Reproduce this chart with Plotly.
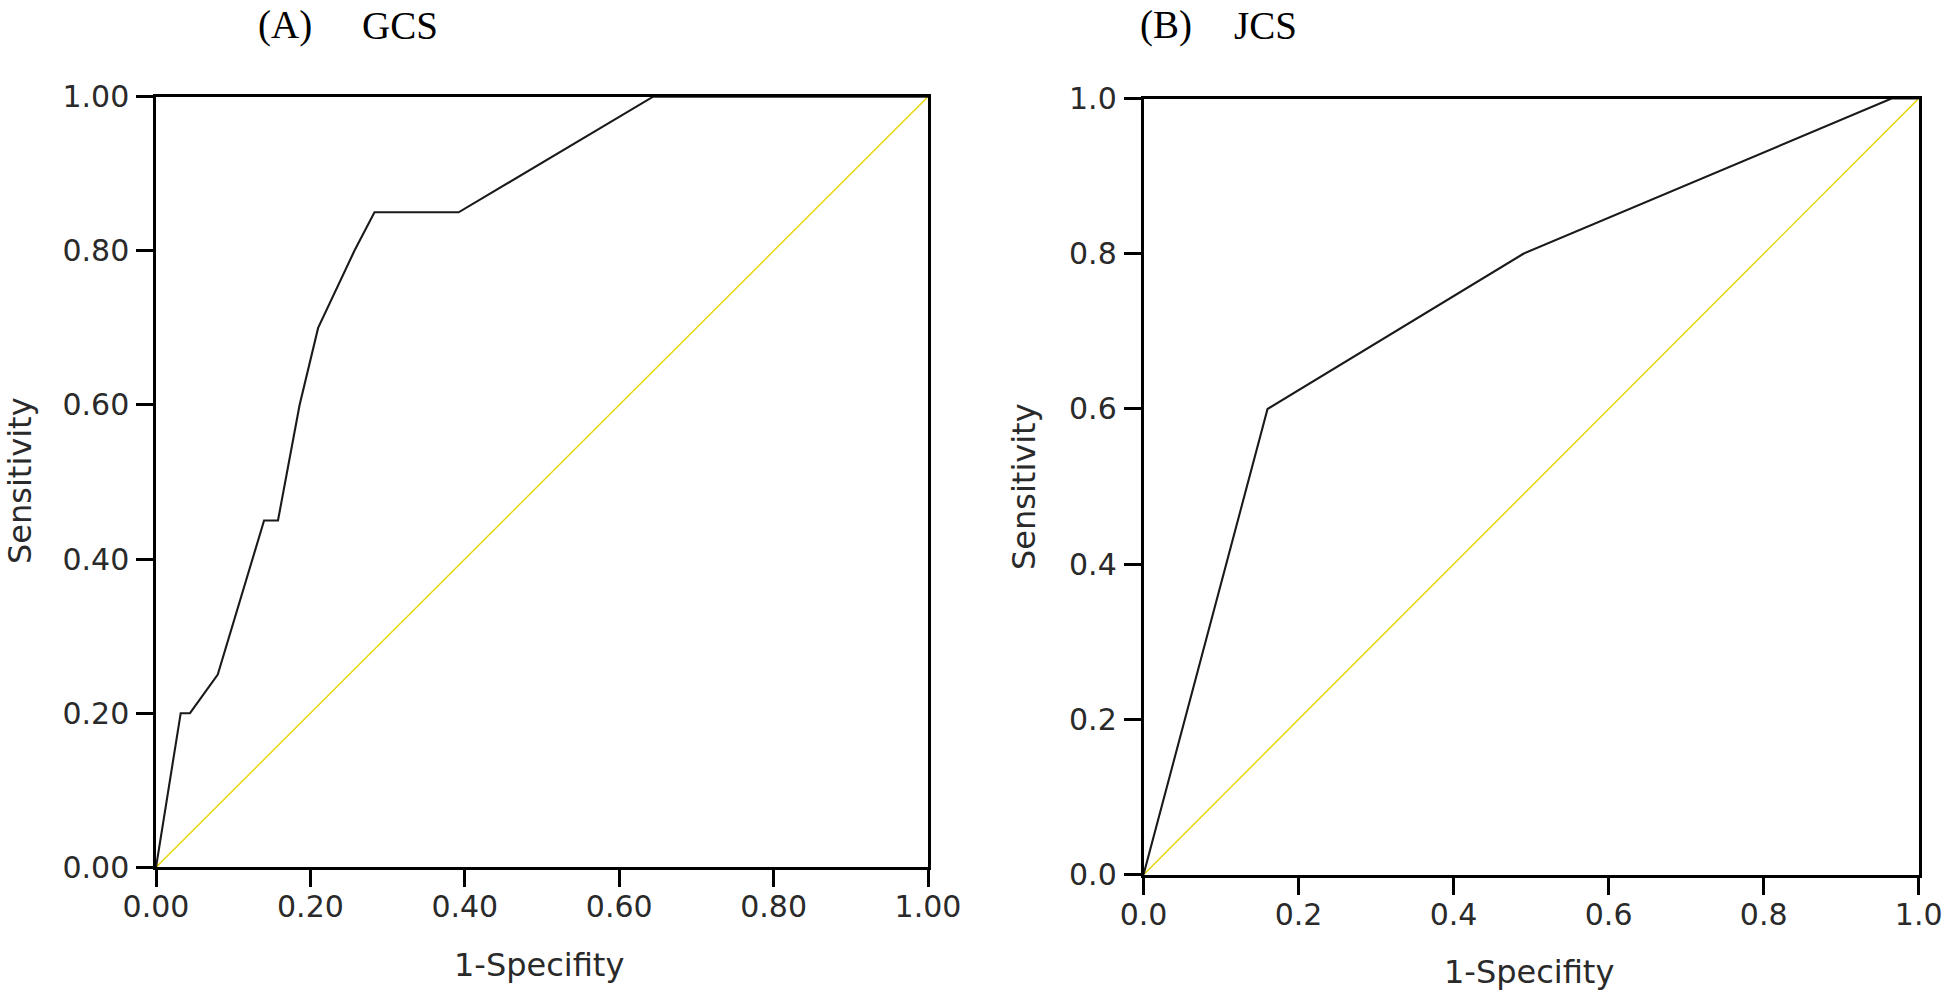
import plotly.graph_objects as go

# ---- data ----
gcs_fpr = [0, 0.032, 0.044, 0.08, 0.14, 0.158, 0.186, 0.21, 0.257, 0.283, 0.392, 0.644, 1.0]
gcs_tpr = [0, 0.20, 0.20, 0.25, 0.45, 0.45, 0.60, 0.70, 0.80, 0.85, 0.85, 1.0, 1.0]

jcs_fpr = [0, 0.16, 0.49, 0.965, 1.0]
jcs_tpr = [0, 0.60, 0.80, 1.0, 1.0]

ref_line = [0, 1]

tick_vals = [0, 0.2, 0.4, 0.6, 0.8, 1.0]
ticks_a = ["0.00", "0.20", "0.40", "0.60", "0.80", "1.00"]
ticks_b = ["0.0", "0.2", "0.4", "0.6", "0.8", "1.0"]

W, H = 1946, 994

def px(x):
    return x / W

def py(y):
    return 1 - y / H

fig = go.Figure()

curve_style = dict(color="#1a1a1a", width=2.1)
diag_style = dict(color="#e6d400", width=1.4)

fig.add_trace(go.Scatter(x=ref_line, y=ref_line, mode="lines", line=diag_style,
                         xaxis="x", yaxis="y", showlegend=False, hoverinfo="skip"))
fig.add_trace(go.Scatter(x=gcs_fpr, y=gcs_tpr, mode="lines", line=curve_style,
                         xaxis="x", yaxis="y", showlegend=False))
fig.add_trace(go.Scatter(x=ref_line, y=ref_line, mode="lines", line=diag_style,
                         xaxis="x2", yaxis="y2", showlegend=False, hoverinfo="skip"))
fig.add_trace(go.Scatter(x=jcs_fpr, y=jcs_tpr, mode="lines", line=curve_style,
                         xaxis="x2", yaxis="y2", showlegend=False))

tick_font = dict(family="DejaVu Sans", size=30, color="#2a2a2a")

def xax(domain, anchor, labels):
    return dict(domain=domain, anchor=anchor, range=[0, 1], tickvals=tick_vals,
                ticktext=labels, ticks="outside", ticklen=17, tickwidth=2.5,
                tickcolor="black", showline=True, linecolor="black", linewidth=3,
                mirror=True, showgrid=False, zeroline=False, tickfont=tick_font,
                fixedrange=True, automargin=False, ticklabelstandoff=-6)

def yax(domain, anchor, labels):
    return dict(domain=domain, anchor=anchor, range=[0, 1], tickvals=tick_vals,
                ticktext=labels, ticks="outside", ticklen=17, tickwidth=2.5,
                tickcolor="black", showline=True, linecolor="black", linewidth=2.5,
                mirror=True, showgrid=False, zeroline=False, tickfont=tick_font,
                fixedrange=True, automargin=False, ticklabelstandoff=1)

fig.update_layout(
    width=W, height=H,
    margin=dict(l=0, r=0, t=0, b=0, pad=0),
    paper_bgcolor="white", plot_bgcolor="white",
    xaxis=xax([px(156), px(928)], "y", ticks_a),
    yaxis=yax([py(867.3), py(96.7)], "x", ticks_a),
    xaxis2=xax([px(1143.5), px(1918.7)], "y2", ticks_b),
    yaxis2=yax([py(874.7), py(98.5)], "x2", ticks_b),
)

title_font = dict(family="Liberation Serif", size=39, color="black")
label_font = dict(family="DejaVu Sans", size=32, color="#2a2a2a")

annots = [
    dict(text="(A)", x=px(284.5), y=py(25), font=title_font),
    dict(text="GCS", x=px(400), y=py(25), font=title_font),
    dict(text="(B)", x=px(1166), y=py(25), font=title_font),
    dict(text="JCS", x=px(1265), y=py(25), font=title_font),
    dict(text="1-Specifity", x=px(539), y=py(965), font=label_font),
    dict(text="1-Specifity", x=px(1529), y=py(972), font=label_font),
    dict(text="Sensitivity", x=px(20), y=py(481), font=label_font, textangle=-90),
    dict(text="Sensitivity", x=px(1024), y=py(487), font=label_font, textangle=-90),
]
for a in annots:
    fig.add_annotation(xref="paper", yref="paper", showarrow=False,
                       xanchor="center", yanchor="middle", **a)

fig.write_html(
    "out.html",
    config={"displayModeBar": False},
    post_script="document.body.style.margin='0';document.body.style.overflow='hidden';",
)
